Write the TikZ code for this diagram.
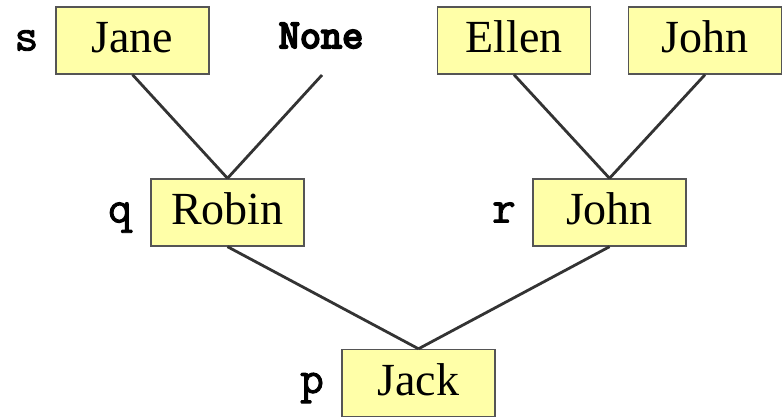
\documentclass[tikz,border=0pt]{standalone}
\usepackage{fontspec}
\setmainfont{Liberation Serif}
\newfontfamily\varfont[FakeBold=2]{Latin Modern Mono}
\newfontfamily\nonefont[FakeBold=5]{Latin Modern Mono}
\definecolor{boxfill}{HTML}{FFFFA8}
\definecolor{boxline}{HTML}{555555}
\definecolor{linkline}{HTML}{333333}
\begin{document}
\begin{tikzpicture}[x=1pt,y=-1pt,
  person/.style={draw=boxline, line width=1.4pt, fill=boxfill,
    minimum width=153pt, minimum height=67pt, inner sep=0pt,
    text height=30pt, text depth=5pt,
    font=\fontsize{46}{52}\selectfont},
  emptyslot/.style={anchor=base, inner sep=0pt,
    font=\nonefont\fontsize{41}{46}\selectfont},
  varname/.style={anchor=base, inner sep=0pt,
    font=\varfont\fontsize{46}{52}\selectfont},
  link/.style={draw=linkline, line width=2.8pt}]
  \useasboundingbox (0,0) rectangle (782,419);

  % leaves
  \node[person] (jane)  at (132.5,40.5) {Jane};
  \node[emptyslot] (none) at (321,48) {None};
  \coordinate (nonefoot) at (322,75);
  \node[person] (ellen) at (514,40.5) {Ellen};
  \node[person] (john1) at (705,40.5) {John};

  % middle level
  \node[person] (robin) at (227.5,212.5) {Robin};
  \node[person] (john2) at (609.5,212.5) {John};

  % root
  \node[person] (jack) at (418.5,383) {Jack};

  % variable names
  \node[varname] (s) at (26.5,50.5) {s};
  \node[varname] (q) at (120,222.5) {q};
  \node[varname] (r) at (504,222.5) {r};
  \node[varname] (p) at (312,393) {p};

  % tree links
  \draw[link] (jane.south) -- (robin.north);
  \draw[link] (nonefoot) -- (robin.north);
  \draw[link] (ellen.south) -- (john2.north);
  \draw[link] (john1.south) -- (john2.north);
  \draw[link] (robin.south) -- (jack.north);
  \draw[link] (john2.south) -- (jack.north);
\end{tikzpicture}
\end{document}
